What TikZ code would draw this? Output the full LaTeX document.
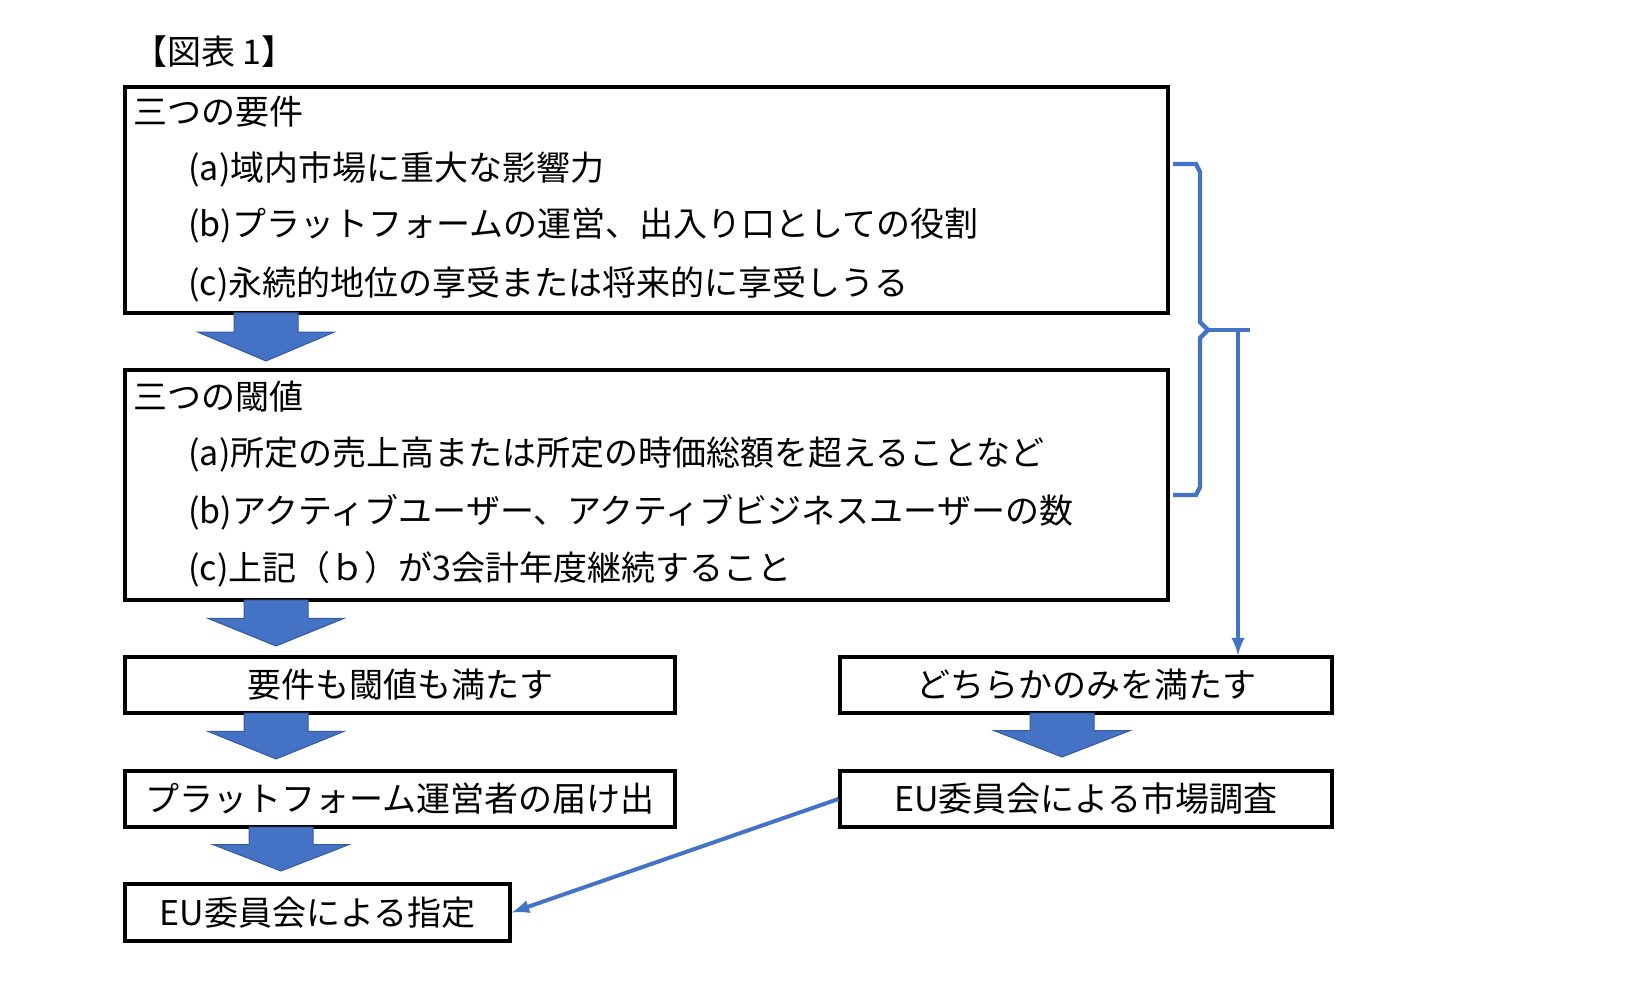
\documentclass[tikz,border=0pt]{standalone}
\usepackage{fontspec}
\setmainfont{Noto Sans CJK JP}
\usetikzlibrary{positioning,calc}
\definecolor{blockblue}{HTML}{4472C4}
\tikzset{
  box/.style     = {draw, line width=1.6pt, inner sep=0pt, font=\fontsize{17}{20}\selectfont},
  txt/.style     = {anchor=west, inner sep=0pt, font=\fontsize{17}{20}\selectfont},
  link/.style    = {->, >=latex, blockblue, line width=2pt},
  bigdown/.style = {fill=blockblue, draw=blockblue!80!black, line width=0.5pt}
}
% block arrow: centre x, top y, bottom y
\newcommand{\downblock}[3]{%
  \fill[bigdown] (#1-32,#2) -- (#1+32,#2) -- (#1+32,{#2+0.4*(#3-#2)})
    -- (#1+68,{#2+0.4*(#3-#2)}) -- (#1,#3) -- (#1-68,{#2+0.4*(#3-#2)})
    -- (#1-32,{#2+0.4*(#3-#2)}) -- cycle;}

\begin{document}
\begin{tikzpicture}[x=0.5pt, y=-0.5pt]
  \useasboundingbox (0,0) rectangle (1642,988);

  \node[txt] (title) at (133,52) {【図表 1】};

  % requirements
  \node[box, minimum width=521.5pt, minimum height=113pt] (reqbox) at (646.5,200) {};
  \node[txt] (req)  at (133,112) {三つの要件};
  \node[txt] (reqa) at (188,169) {(a)域内市場に重大な影響力};
  \node[txt] (reqb) at (188,226) {(b)プラットフォームの運営、出入り口としての役割};
  \node[txt] (reqc) at (188,284) {(c)永続的地位の享受または将来的に享受しうる};
  \downblock{266}{313}{361}

  % thresholds
  \node[box, minimum width=521.5pt, minimum height=115pt] (thrbox) at (646.5,485) {};
  \node[txt] (thr)  at (133,397) {三つの閾値};
  \node[txt] (thra) at (188,455) {(a)所定の売上高または所定の時価総額を超えることなど};
  \node[txt] (thrb) at (188,512) {(b)アクティブユーザー、アクティブビジネスユーザーの数};
  \node[txt] (thrc) at (188,569) {(c)上記（ｂ）が3会計年度継続すること};
  \downblock{276}{600}{646}

  % brace
  \draw[blockblue, line width=2.2pt]
    (1173,164) -- (1196,164) -- (1200,172) -- (1200,322) -- (1208,330)
    -- (1200,338) -- (1200,487) -- (1196,495) -- (1173,495);
  \draw[blockblue, line width=2.2pt] (1208,330) -- (1250,330);
  \coordinate (split) at (1238,330);

  % left column
  \node[box, minimum width=275pt, minimum height=28pt] (both) at (400,685) {要件も閾値も満たす};
  \downblock{276}{713}{759}
  \node[box, minimum width=275pt, minimum height=28pt] (notify) at (400,799) {プラットフォーム運営者の届け出};
  \downblock{281}{827}{871}
  \node[box, minimum width=192.5pt, minimum height=28.5pt] (desig) at (317.5,912.5) {EU委員会による指定};

  % right column
  \node[box, minimum width=246pt, minimum height=28pt] (either) at (1086,685) {どちらかのみを満たす};
  \downblock{1062}{713}{757}
  \node[box, minimum width=246pt, minimum height=28pt] (survey) at (1086,799) {EU委員会による市場調査};

  \draw[link] (split) -- (split |- either.north);
  \draw[link] (survey.west) -- (desig.east);
\end{tikzpicture}
\end{document}
